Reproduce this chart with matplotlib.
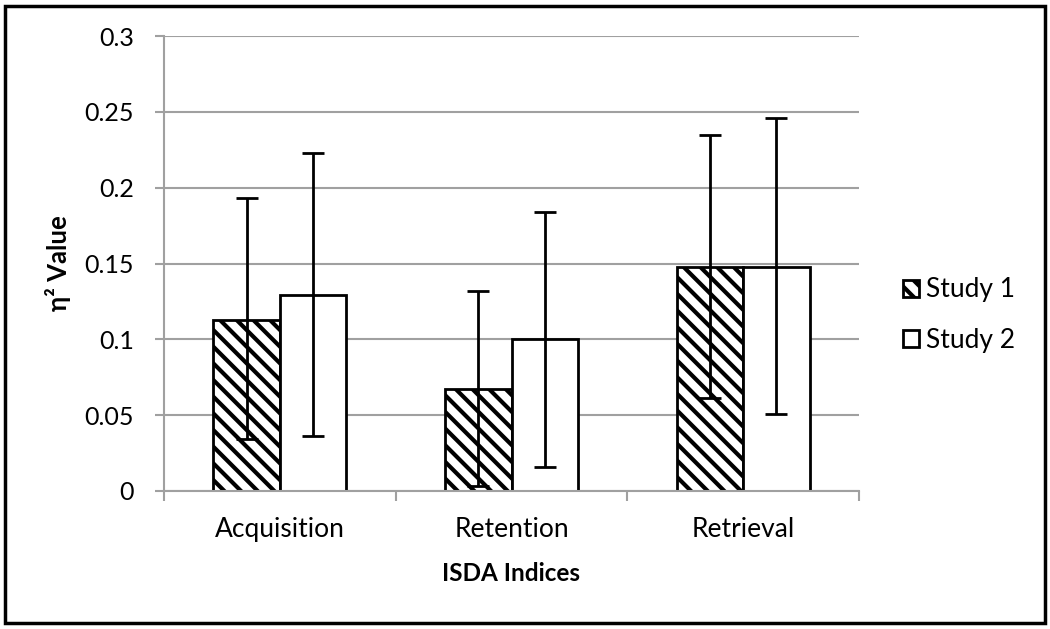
import numpy as np
import matplotlib
matplotlib.use('Agg')
import matplotlib.pyplot as plt
from matplotlib.patches import Rectangle

plt.rcParams['font.family'] = ['Lato', 'DejaVu Sans']
plt.rcParams['hatch.linewidth'] = 3.0

categories = ['Acquisition', 'Retention', 'Retrieval']
study1 = [0.113, 0.067, 0.148]
study1_lo = [0.034, 0.003, 0.061]
study1_hi = [0.193, 0.132, 0.235]
study2 = [0.129, 0.100, 0.148]
study2_lo = [0.036, 0.016, 0.051]
study2_hi = [0.223, 0.184, 0.246]

fig = plt.figure(figsize=(10.5, 6.29), dpi=100)
fig.patches.append(Rectangle((5/1050, 6/629), 1040/1050, 617/629, transform=fig.transFigure,
                             fill=False, edgecolor='black', linewidth=2.5))

ax = fig.add_axes([164/1050, 1 - 491/629, 695/1050, 455/629])

x = np.arange(len(categories))
w = 0.287
s1 = np.array(study1)
s2 = np.array(study2)

ax.set_axisbelow(True)
ax.yaxis.grid(True, color='#a0a0a0', linewidth=1.5)
ax.bar(x - w/2, s1, w, color='white', edgecolor='black', hatch='\\\\', linewidth=2, label='Study 1')
ax.bar(x + w/2, s2, w, color='white', edgecolor='black', linewidth=2, label='Study 2')
ax.errorbar(x - w/2, s1, yerr=[s1 - np.array(study1_lo), np.array(study1_hi) - s1],
            fmt='none', ecolor='black', elinewidth=2, capsize=8, capthick=2)
ax.errorbar(x + w/2, s2, yerr=[s2 - np.array(study2_lo), np.array(study2_hi) - s2],
            fmt='none', ecolor='black', elinewidth=2, capsize=8, capthick=2)

ax.set_xlim(-0.5, 2.5)
ax.set_ylim(0, 0.3)
ax.set_yticks([0, 0.05, 0.1, 0.15, 0.2, 0.25, 0.3])
ax.set_yticklabels(['0', '0.05', '0.1', '0.15', '0.2', '0.25', '0.3'])
ax.set_xticks(x)
ax.set_xticklabels(categories)
ax.set_xticks([-0.5, 0.5, 1.5, 2.5], minor=True)
ax.tick_params(axis='x', which='major', length=0, labelsize=19, pad=19)
ax.tick_params(axis='x', which='minor', length=7, width=1.5, color='#a0a0a0')
ax.tick_params(axis='y', length=6.5, width=1.5, color='#a0a0a0', labelsize=18, pad=15)

for side in ['top', 'right']:
    ax.spines[side].set_visible(False)
for side in ['left', 'bottom']:
    ax.spines[side].set_color('#a0a0a0')
    ax.spines[side].set_linewidth(1.5)

ax.set_xlabel('ISDA Indices', fontsize=17.5, fontweight='bold', labelpad=14)
ax.set_ylabel('\u03b7\u00b2 Value', fontsize=18.5, fontweight='bold', labelpad=10)

leg = fig.legend(loc='center left', bbox_to_anchor=(879/1050, 1 - 315/629), frameon=False,
                 fontsize=19, handlelength=0.6, handleheight=0.6, handletextpad=0.3,
                 labelspacing=0.95)

fig.savefig('out.png', dpi=100)
